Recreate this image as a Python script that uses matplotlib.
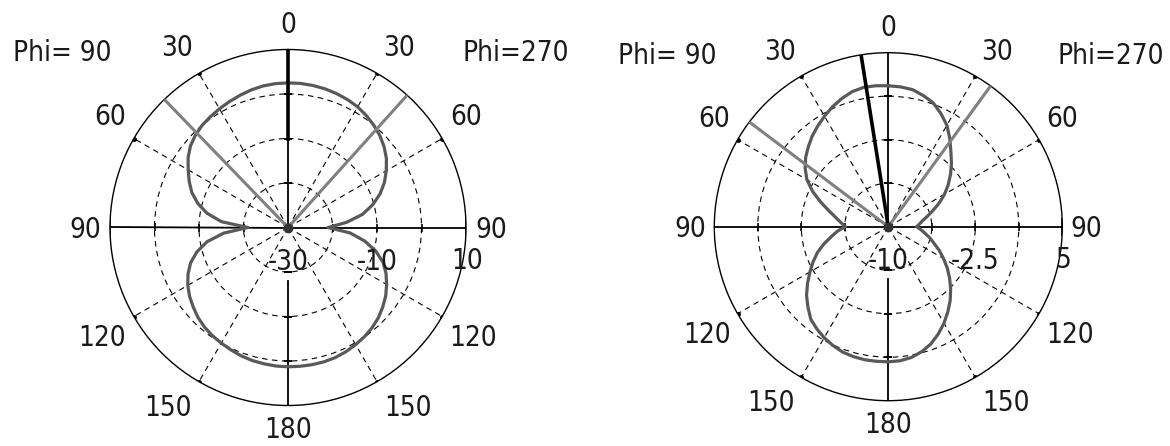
import numpy as np
import matplotlib.pyplot as plt

plt.rcParams['font.family'] = ['DejaVu Sans']

# polar angle theta (deg, from zenith), same sampling for every cut
theta = list(range(0, 181, 5))

# left chart: gain (dB) in the Phi=90 and Phi=270 cuts
gain1_phi90 = [2.5, 2.45, 2.3, 2.0, 1.6, 1.2, 0.8, 0.4, 0.0, -0.6, -1.4, -2.6, -4.1,
               -5.5, -7.0, -9.0, -11.5, -15.0, -21.0, -15.5, -11.5, -8.8, -6.7, -5.2,
               -4.0, -3.0, -2.2, -1.4, -0.8, -0.35, 0.0, 0.35, 0.7, 0.95, 1.1, 1.25, 1.3]
gain1_phi270 = [2.5, 2.5, 2.4, 2.25, 2.0, 1.7, 1.3, 0.7, 0.0, -0.8, -1.8, -3.0, -4.5,
                -6.1, -8.0, -10.3, -13.0, -16.8, -21.0, -16.0, -12.5, -9.6, -7.3, -5.7,
                -4.4, -3.2, -2.2, -1.3, -0.6, -0.05, 0.4, 0.8, 1.1, 1.25, 1.3, 1.3, 1.3]
scale1 = [-30, 10]          # radial range, dB
peak1 = 0                   # direction of maximum (deg, negative = Phi=90 side)
edges1 = [-44, 42]          # -3 dB beam edges
rlabels1 = ['-30', '-10', '10']

# right chart
gain2_phi90 = [2.15, 2.2, 2.2, 2.05, 1.75, 1.4, 1.0, 0.6, 0.2, -0.25, -0.7, -1.25, -1.9,
               -2.8, -3.8, -4.7, -5.4, -5.9, -6.3, -5.6, -5.0, -4.25, -3.5, -2.85,
               -2.2, -1.5, -0.8, -0.2, 0.4, 0.75, 1.05, 1.3, 1.5, 1.6, 1.65, 1.65, 1.65]
gain2_phi270 = [2.15, 2.1, 2.0, 1.7, 1.35, 0.75, 0.1, -0.75, -1.6, -2.3, -3.0, -3.7, -4.4,
                -5.15, -5.9, -6.5, -7.0, -7.3, -7.55, -7.2, -6.8, -6.3, -5.8, -5.15,
                -4.5, -3.8, -3.1, -2.4, -1.7, -1.05, -0.4, 0.2, 0.75, 1.15, 1.45, 1.6, 1.65]
scale2 = [-10, 5]
peak2 = -9
edges2 = [-53, 36]
rlabels2 = ['-10', '-2.5', '5']

marker_start = -10          # the max-direction trace starts at -10 dB

angle_labels = ['0', '30', '60', '90', '120', '150', '180']
# label anchors in units of the plot radius (x right, y down), right half
label_pos = [(0, -1.14), (0.625, -1.006), (1.0, -0.618), (1.14, 0.014),
             (1.042, 0.62), (0.675, 1.014), (0, 1.14)]
rlabel_pos = [(0, 0.195), (0.5, 0.195), (1.006, 0.19)]

FONT = dict(fontsize=20, color='#1a1a1a', fontstretch='condensed', ha='center', va='center')


def pos(fx, fy):
    return 0.5 + fx / 2, 0.5 - fy / 2


def draw(ax, g90, g270, scale, peak, edges, rlabels):
    rmin, rmax = scale
    ax.set_theta_zero_location('N')
    ax.set_theta_direction(-1)
    ax.set_rlim(rmin, rmax)

    # dashed grid: three rings and the 30 deg spokes
    rings = np.linspace(rmin, rmax, 5)[1:-1]
    ax.set_rticks(rings)
    ax.set_yticklabels([])
    ax.set_xticks(np.radians([30, 60, 120, 150, 210, 240, 300, 330]))
    ax.set_xticklabels([])
    ax.tick_params(length=0)
    ax.grid(True, color='k', lw=0.8, ls=(0, (5, 4)))
    ax.spines['polar'].set_linewidth(1.0)

    # axis cross with ticks at the rings
    kw = dict(color='k', lw=1.3, zorder=2.5)
    span = rmax - rmin
    ax.plot([np.pi / 2] * 2, [rmin, rmax], **kw)
    ax.plot([-np.pi / 2] * 2, [rmin, rmax], **kw)
    ax.plot([0, 0], [rmin, rmax], **kw)
    ax.plot([np.pi] * 2, [rmin + 0.3 * span, rmax], **kw)
    for a in [np.pi / 2, -np.pi / 2]:
        ax.plot([a] * 3, rings, ls='none', marker='|', ms=6, mew=1.2, color='k', zorder=2.5)
        ax.plot([a], [rmax], ls='none', marker='|', ms=13, mew=1.2, color='k', zorder=2.5)
    for a in [0, np.pi]:
        ax.plot([a] * 3, rings, ls='none', marker='_', ms=6, mew=1.2, color='k', zorder=2.5)
    spokes = np.radians([30, 60, 120, 150, 210, 240, 300, 330])
    ax.plot(spokes, [rmax] * len(spokes), ls='none', marker='o', ms=2.5, color='k', zorder=2.5)

    # pattern: Phi=270 cut on the right, Phi=90 cut mirrored on the left
    th = np.radians(theta)
    t = np.concatenate([th, -th[::-1]])
    r = np.concatenate([g270, g90[::-1]])
    ax.plot(t, r, color='#595959', lw=2.3, zorder=3)

    # -3 dB beam edges and direction of maximum
    for e in edges:
        ax.plot([np.radians(e)] * 2, [rmin, rmax], color='#808080', lw=2.2, zorder=3.2)
    ax.plot([np.radians(peak)] * 2, [max(marker_start, rmin), rmax], color='k', lw=2.6, zorder=3.4)
    ax.plot([0], [rmin], 'o', ms=6, color='#333333', zorder=4)

    # angle labels on both halves
    for lab, (fx, fy) in zip(angle_labels, label_pos):
        ax.text(*pos(fx, fy), lab, transform=ax.transAxes, **FONT)
        if fx != 0:
            ax.text(*pos(-fx, fy), lab, transform=ax.transAxes, **FONT)
    for lab, (fx, fy) in zip(rlabels, rlabel_pos):
        ax.text(*pos(fx, fy), lab, transform=ax.transAxes, **FONT)
    ax.text(*pos(-1.27, -0.98), 'Phi= 90', transform=ax.transAxes, **FONT)
    ax.text(*pos(1.28, -0.98), 'Phi=270', transform=ax.transAxes, **FONT)


fig = plt.figure(figsize=(11.7, 4.46), dpi=100)
ax1 = fig.add_axes([110 / 1170, 40.5 / 446, 356 / 1170, 356 / 446], projection='polar')
ax2 = fig.add_axes([714.3 / 1170, 45.3 / 446, 348 / 1170, 348 / 446], projection='polar')

draw(ax1, np.array(gain1_phi90), np.array(gain1_phi270), scale1, peak1, edges1, rlabels1)
draw(ax2, np.array(gain2_phi90), np.array(gain2_phi270), scale2, peak2, edges2, rlabels2)

fig.savefig('out.png', dpi=100, facecolor='white')
